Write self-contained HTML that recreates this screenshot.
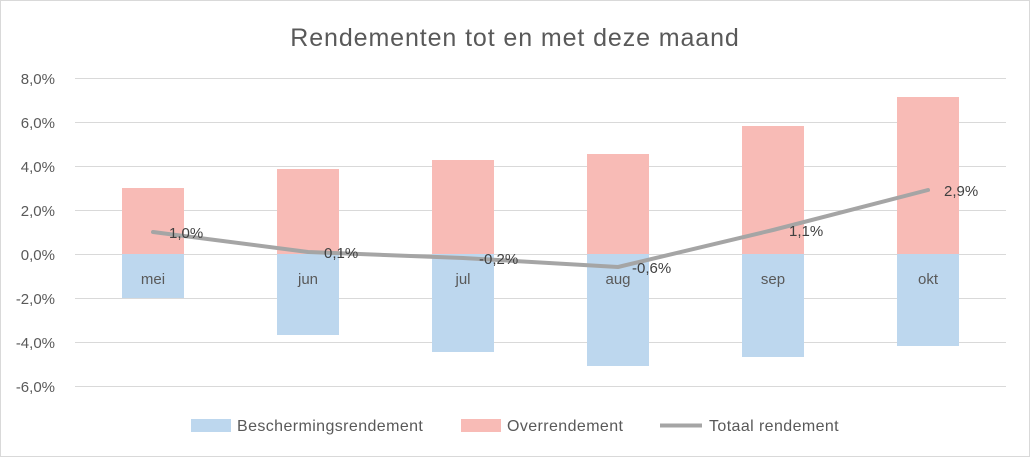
<!DOCTYPE html>
<html><head><meta charset="utf-8"><style>
body{margin:0;background:#fff;}
svg{display:block;font-family:"Liberation Sans",sans-serif;}
</style></head><body>
<svg width="1030" height="457" viewBox="0 0 1030 457">
<rect x="0.5" y="0.5" width="1029" height="456" fill="#fff" stroke="#d9d9d9"/>
<text x="515" y="46" text-anchor="middle" font-size="25" letter-spacing="0.9" fill="#595959">Rendementen tot en met deze maand</text>
<g stroke="#d9d9d9" stroke-width="1">
<line x1="75" x2="1006" y1="78.5" y2="78.5"/><line x1="75" x2="1006" y1="122.5" y2="122.5"/>
<line x1="75" x2="1006" y1="166.5" y2="166.5"/><line x1="75" x2="1006" y1="210.5" y2="210.5"/>
<line x1="75" x2="1006" y1="254.5" y2="254.5"/><line x1="75" x2="1006" y1="298.5" y2="298.5"/>
<line x1="75" x2="1006" y1="342.5" y2="342.5"/><line x1="75" x2="1006" y1="386.5" y2="386.5"/>
</g>
<g font-size="15" fill="#595959" text-anchor="end">
<text x="55" y="84">8,0%</text><text x="55" y="128">6,0%</text><text x="55" y="172">4,0%</text>
<text x="55" y="216">2,0%</text><text x="55" y="260">0,0%</text><text x="55" y="304">-2,0%</text>
<text x="55" y="348">-4,0%</text><text x="55" y="392">-6,0%</text>
</g>
<g fill="#f8bbb6">
<rect x="122" y="188" width="62" height="66"/><rect x="277" y="169" width="62" height="85"/>
<rect x="432" y="160" width="62" height="94"/><rect x="587" y="154" width="62" height="100"/>
<rect x="742" y="126" width="62" height="128"/><rect x="897" y="97" width="62" height="157"/>
</g>
<g fill="#bdd7ee">
<rect x="122" y="254" width="62" height="44"/><rect x="277" y="254" width="62" height="81"/>
<rect x="432" y="254" width="62" height="98"/><rect x="587" y="254" width="62" height="112"/>
<rect x="742" y="254" width="62" height="103"/><rect x="897" y="254" width="62" height="92"/>
</g>
<g font-size="15" fill="#595959" text-anchor="middle">
<text x="153" y="284">mei</text><text x="308" y="284">jun</text><text x="463" y="284">jul</text>
<text x="618" y="284">aug</text><text x="773" y="284">sep</text><text x="928" y="284">okt</text>
</g>
<polyline points="153,232 308,252 463,258 618,267 773,230 928,190" fill="none" stroke="#a5a5a5" stroke-width="4" stroke-linejoin="round" stroke-linecap="round"/>
<g font-size="15" fill="#404040">
<text x="169" y="238">1,0%</text><text x="324" y="258">0,1%</text><text x="479" y="264">-0,2%</text>
<text x="632" y="273">-0,6%</text><text x="789" y="236">1,1%</text><text x="944" y="196">2,9%</text>
</g>
<g font-size="16" fill="#595959" letter-spacing="0.4">
<rect x="191" y="419" width="40" height="13" fill="#bdd7ee"/><text x="237" y="431">Beschermingsrendement</text>
<rect x="461" y="419" width="40" height="13" fill="#f8bbb6"/><text x="507" y="431">Overrendement</text>
<line x1="660" x2="702" y1="425.5" y2="425.5" stroke="#a5a5a5" stroke-width="4"/><text x="709" y="431">Totaal rendement</text>
</g>
</svg>
</body></html>
